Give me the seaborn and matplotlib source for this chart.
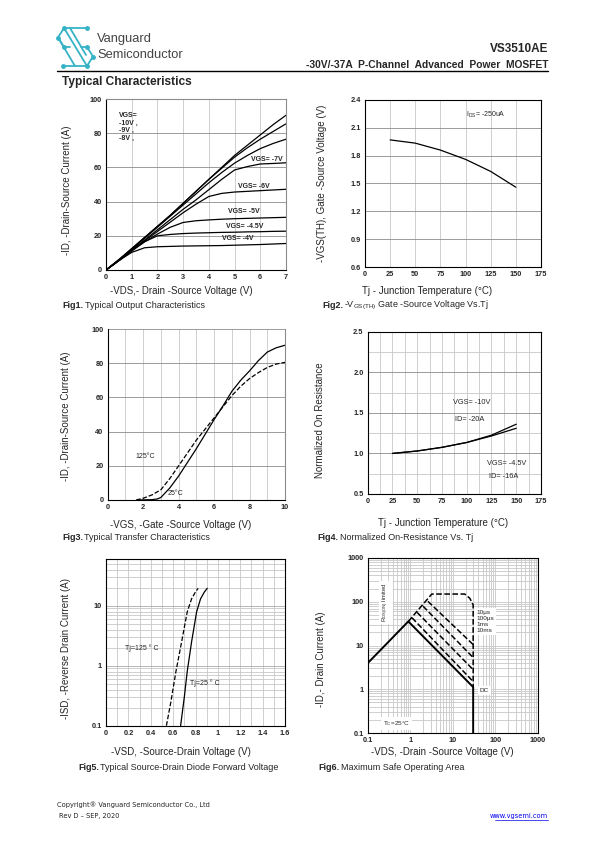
import numpy as np
import pandas as pd
import matplotlib
matplotlib.use('Agg')
import matplotlib.pyplot as plt
import seaborn as sns

sns.set_style('white')
plt.rcParams['font.family'] = ['Liberation Sans', 'DejaVu Sans']
plt.rcParams['mathtext.default'] = 'regular'

W, H = 595, 842
NARROW = ['Liberation Sans Narrow', 'Liberation Sans', 'DejaVu Sans']

# ---- data ----
# Fig1 output characteristics
vds1 = [0, 0.5, 1, 1.5, 2, 2.5, 3, 3.5, 4, 4.5, 5, 5.5, 6, 6.5, 7]
id_vgs10 = [0, 6, 12.5, 19, 25.5, 32, 39, 46, 53, 60, 67, 73, 79, 85, 90.5]
id_vgs9 = [0, 6, 12.5, 19, 25.5, 32, 39, 46, 53, 59.5, 66, 71.5, 76.5, 81, 85.5]
id_vgs8 = [0, 6, 12, 18.5, 25, 31.5, 38, 44.5, 51, 57, 62.5, 67, 71, 74, 76.5]
id_vgs7 = [0, 5.5, 11.5, 17.5, 23.5, 29.5, 35.5, 41, 47, 53, 58.5, 60.5, 62, 62.3, 62.7]
id_vgs6 = [0, 5.5, 11.5, 17, 22.5, 28, 33.5, 38.5, 43, 44.8, 45.6, 46, 46.4, 46.8, 47.2]
id_vgs5 = [0, 5.5, 11.5, 16.5, 21, 25, 27.8, 28.8, 29.3, 29.7, 30, 30.2, 30.4, 30.6, 30.8]
id_vgs45 = [0, 5.5, 11, 16.5, 20, 20.8, 21.3, 21.6, 21.8, 22, 22.1, 22.3, 22.4, 22.6, 22.7]
id_vgs4 = [0, 5.5, 10.3, 13, 13.6, 13.8, 14, 14.1, 14.2, 14.3, 14.5, 14.7, 14.9, 15.2, 15.5]

# Fig2 threshold voltage vs Tj
tj2 = [25, 50, 75, 100, 125, 150]
vth2 = [1.97, 1.935, 1.86, 1.76, 1.63, 1.46]

# Fig3 transfer characteristics
vgs3_25 = [1.7, 2.5, 2.8, 3.0, 3.5, 4.0, 4.5, 5.0, 5.5, 6.0, 6.5, 7.0, 7.5, 8.0, 8.5, 9.0, 9.5, 10.0]
id3_25 = [0, 0.2, 0.6, 1.5, 7, 14, 22, 30, 38.5, 47, 55, 63.5, 70, 75.5, 81.5, 86.5, 89, 90.5]
vgs3_125 = [1.6, 2.0, 2.5, 3.0, 3.5, 4.0, 4.5, 5.0, 5.5, 6.0, 6.5, 7.0, 7.5, 8.0, 8.5, 9.0, 9.5, 10.0]
id3_125 = [0, 1, 3, 6, 12.5, 20, 27.5, 35, 41.5, 48, 54.5, 61, 66.5, 71, 74.5, 77.5, 79.5, 80.5]

# Fig4 normalized on-resistance
tj4 = [25, 50, 75, 100, 125, 150]
rn_vgs10 = [1.0, 1.03, 1.075, 1.135, 1.225, 1.36]
rn_vgs45 = [1.0, 1.03, 1.075, 1.135, 1.215, 1.31]

# Fig5 body diode forward voltage
vsd_125 = [0.54, 0.58, 0.625, 0.676, 0.726, 0.765, 0.80, 0.824]
isd_125 = [0.1, 0.25, 0.8, 2.5, 7.9, 13, 17, 19.5]
vsd_25 = [0.667, 0.70, 0.726, 0.765, 0.81, 0.845, 0.88, 0.905]
isd_25 = [0.1, 0.3, 0.8, 2.5, 7.9, 13, 17, 19.5]

# Fig6 safe operating area
soa_dc_v = [0.1, 0.9, 30, 30]
soa_dc_i = [3.94, 35.5, 1.12, 0.1]
soa_env_v = [0.9, 3.2, 19, 25, 30, 30]
soa_env_i = [35.5, 150, 150, 120, 85, 1.12]
soa_10ms_v, soa_10ms_i = [1.1, 30], [43, 1.5]
soa_1ms_v, soa_1ms_i = [1.45, 30], [57, 2.8]
soa_100us_v, soa_100us_i = [2.0, 30], [79, 5.3]
soa_10us_v, soa_10us_i = [2.6, 30], [102, 10.5]


fig = plt.figure(figsize=(W / 100, H / 100), dpi=100)


def px_ax(l, t, r, b):
    return fig.add_axes([l / W, 1 - b / H, (r - l) / W, (b - t) / H])


def ftxt(x, y, s, **kw):
    return fig.text(x / W, 1 - y / H, s, **kw)


def line(ax, x, y, ls='-', lw=0.9):
    sns.lineplot(x=x, y=y, ax=ax, color='k', lw=lw, linestyle=ls,
                 estimator=None, sort=False)


def style(ax, xgrid='#c8c8c8', ygrid='#8c8c8c'):
    ax.tick_params(length=0, labelsize=5.3, pad=3)
    for lab in ax.get_xticklabels() + ax.get_yticklabels():
        lab.set_family(NARROW)
        lab.set_fontweight('bold')
    ax.set_axisbelow(True)
    ax.xaxis.grid(True, which='both', color=xgrid, lw=0.6)
    ax.yaxis.grid(True, which='major', color=ygrid, lw=0.6)
    for s in ax.spines.values():
        s.set_color('k')
        s.set_linewidth(0.8)


def labels(ax, xl, yl, xc, yc):
    ax.set_xlabel(xl, fontsize=7)
    ax.set_ylabel(yl, fontsize=7)
    ax.xaxis.set_label_coords(*xc)
    ax.yaxis.set_label_coords(*yc)


# ---- Fig1 ----
ax1 = px_ax(106, 99, 286, 270)
for ys in [id_vgs10, id_vgs9, id_vgs8, id_vgs7, id_vgs6, id_vgs5, id_vgs45, id_vgs4]:
    line(ax1, vds1, ys)
ax1.set_xlim(0, 7)
ax1.set_ylim(0, 100)
ax1.set_xticks(range(0, 8))
ax1.set_yticks(range(0, 101, 20))
style(ax1)
ax1.spines['top'].set_color('#8c8c8c')
ax1.spines['right'].set_color('#8c8c8c')
labels(ax1, '-VDS,- Drain -Source Voltage (V)', '-ID, -Drain-Source Current (A)',
       (0.417, -0.095), (-0.19, 0.468))
kw = dict(fontsize=5, fontweight='bold', va='center', family=NARROW)
ax1.text(0.5, 90.6, 'VGS=', **kw)
ax1.text(0.5, 86, '-10V ,', **kw)
ax1.text(0.5, 81.5, '-9V ,', **kw)
ax1.text(0.5, 77.2, '-8V ,', **kw)
kw['ha'] = 'center'
ax1.text(6.25, 64.7, 'VGS= -7V', **kw)
ax1.text(5.76, 49, 'VGS= -6V', **kw)
ax1.text(5.37, 34, 'VGS= -5V', **kw)
ax1.text(5.41, 25.3, 'VGS= -4.5V', **kw)
ax1.text(5.12, 18.3, 'VGS= -4V', **kw)

# ---- Fig2 ----
ax2 = px_ax(365, 100, 541, 267)
line(ax2, tj2, vth2)
ax2.set_xlim(0, 175)
ax2.set_ylim(0.6, 2.4)
ax2.set_xticks(range(0, 176, 25))
ax2.set_yticks(np.arange(0.6, 2.41, 0.3))
ax2.set_yticklabels(['0.6', '0.9', '1.2', '1.5', '1.8', '2.1', '2.4'])
style(ax2)
labels(ax2, 'Tj - Junction Temperature (°C)', '-VGS(TH), Gate -Source Voltage (V)',
       (0.35, -0.115), (-0.218, 0.5))
ax2.text(120, 2.24, 'I$_{DS}$= -250uA', fontsize=5, ha='center', va='center',
         family=NARROW)

# ---- Fig3 ----
ax3 = px_ax(107.7, 329, 285, 500)
line(ax3, vgs3_25, id3_25)
line(ax3, vgs3_125, id3_125, ls='--')
ax3.set_xlim(0, 10)
ax3.set_ylim(0, 100)
ax3.set_xticks(range(0, 11, 2))
ax3.set_xticks(range(1, 10, 2), minor=True)
ax3.set_yticks(range(0, 101, 20))
style(ax3)
ax3.spines['top'].set_visible(False)
ax3.spines['right'].set_color('#8c8c8c')
labels(ax3, '-VGS, -Gate -Source Voltage (V)', '-ID, -Drain-Source Current (A)',
       (0.413, -0.118), (-0.205, 0.49))
ax3.text(2.1, 25.7, '125°C', fontsize=5, ha='center', va='center', family=NARROW)
ax3.text(3.8, 4, '25°C', fontsize=5, ha='center', va='center', family=NARROW)

# ---- Fig4 ----
ax4 = px_ax(367.7, 331.7, 541, 494)
line(ax4, tj4, rn_vgs10)
line(ax4, tj4, rn_vgs45)
ax4.set_xlim(0, 175)
ax4.set_ylim(0.5, 2.5)
ax4.set_xticks(range(0, 176, 25))
ax4.set_xticks(np.arange(12.5, 175, 25), minor=True)
ax4.set_yticks([0.5, 1.0, 1.5, 2.0, 2.5])
ax4.set_yticks([0.75, 1.25, 1.75, 2.25], minor=True)
style(ax4)
ax4.yaxis.grid(True, which='minor', color='#c8c8c8', lw=0.6)
labels(ax4, 'Tj - Junction Temperature (°C)', 'Normalized On Resistance',
       (0.433, -0.15), (-0.248, 0.456))
kw = dict(fontsize=5.3, va='center', ha='left', family=NARROW)
ax4.text(85.8, 1.625, 'VGS= -10V', **kw)
ax4.text(88, 1.42, 'ID= -20A', **kw)
ax4.text(120, 0.88, 'VGS= -4.5V', **kw)
ax4.text(122.5, 0.71, 'ID= -16A', **kw)

# ---- Fig5 ----
ax5 = px_ax(106, 559, 285, 725.7)
line(ax5, vsd_125, isd_125, ls='--')
line(ax5, vsd_25, isd_25)
ax5.set_yscale('log')
ax5.set_xlim(0, 1.6)
ax5.set_ylim(0.1, 60)
ax5.set_xticks(np.arange(0, 1.61, 0.2))
ax5.set_xticklabels(['0', '0.2', '0.4', '0.6', '0.8', '1', '1.2', '1.4', '1.6'])
ax5.set_xticks(np.arange(0.1, 1.6, 0.2), minor=True)
ax5.set_yticks([0.1, 1, 10])
ax5.set_yticklabels(['0.1', '1', '10'])
style(ax5, ygrid='#a8a8a8')
ax5.yaxis.grid(True, which='minor', color='#c8c8c8', lw=0.6)
ax5.tick_params(which='minor', length=0, labelleft=False)
labels(ax5, '-VSD, -Source-Drain Voltage (V)', '-ISD, -Reverse Drain Current (A)',
       (0.419, -0.127), (-0.193, 0.466))
ax5.text(0.17, 1.95, 'Tj=125 ° C', fontsize=5, ha='left', va='center', family=NARROW)
ax5.text(0.75, 0.51, 'Tj=25 ° C', fontsize=5, ha='left', va='center', family=NARROW)

# ---- Fig6 ----
ax6 = px_ax(367.7, 558, 538, 733)
line(ax6, soa_dc_v, soa_dc_i, lw=1.4)
line(ax6, soa_env_v, soa_env_i, ls='--', lw=1.1)
for vv, ii in [(soa_10ms_v, soa_10ms_i), (soa_1ms_v, soa_1ms_i),
               (soa_100us_v, soa_100us_i), (soa_10us_v, soa_10us_i)]:
    line(ax6, vv, ii, ls='--', lw=1.1)
ax6.set_xscale('log')
ax6.set_yscale('log')
ax6.set_xlim(0.1, 1000)
ax6.set_ylim(0.1, 1000)
ax6.set_xticks([0.1, 1, 10, 100, 1000])
ax6.set_xticklabels(['0.1', '1', '10', '100', '1000'])
ax6.set_yticks([0.1, 1, 10, 100, 1000])
ax6.set_yticklabels(['0.1', '1', '10', '100', '1000'])
style(ax6, ygrid='#c8c8c8')
ax6.yaxis.grid(True, which='minor', color='#c8c8c8', lw=0.6)
ax6.tick_params(which='minor', length=0, labelleft=False, labelbottom=False)
labels(ax6, '-VDS, -Drain -Source Voltage (V)', '-ID,- Drain Current (A)',
       (0.438, -0.08), (-0.243, 0.423))
box = dict(facecolor='white', edgecolor='none', pad=1.5)
ax6.text(0.27, 95, 'R$_{DS(ON)}$ limited', fontsize=4.2, rotation=90,
         ha='center', va='center', bbox=box, family=NARROW)
ax6.text(35, 35, '10µs\n100µs\n1ms\n10ms', fontsize=4.6, ha='left', va='center',
         linespacing=1.2, bbox=box, family=NARROW)
ax6.text(43, 0.93, 'DC', fontsize=4.6, ha='left', va='center', bbox=box, family=NARROW)
ax6.text(0.23, 0.167, 'T$_C$=25°C', fontsize=4.6, ha='left', va='center', bbox=box,
         family=NARROW)

# ---- captions ----
renderer = fig.canvas.get_renderer()


def caption(x, y, bold, rest):
    t = ftxt(x, y, bold, fontsize=6.5, fontweight='bold', va='center')
    bb = t.get_window_extent(renderer)
    fig.text(bb.x1 / W + 1.5 / W, 1 - y / H, rest, fontsize=6.5, va='center')


caption(62, 305, 'Fig1.', 'Typical Output Characteristics')
caption(322, 305, 'Fig2.', '-V$_{GS(TH)}$ Gate -Source Voltage Vs.Tj')
caption(62, 538, 'Fig3.', 'Typical Transfer Characteristics')
caption(317, 538, 'Fig4.', 'Normalized On-Resistance Vs. Tj')
caption(78, 768, 'Fig5.', 'Typical Source-Drain Diode Forward Voltage')
caption(318, 768, 'Fig6.', 'Maximum Safe Operating Area')

# ---- page header ----
teal = '#35b3c6'
logo_lines = [
    [(87, 28), (64, 28), (58, 37.5), (64, 47)],
    [(64, 28), (87, 66)],
    [(58, 37.5), (75, 66)],
    [(70, 28), (86, 55)],
    [(64, 47), (70, 47)],
    [(63, 66), (87, 66), (93, 56.5), (87, 47)],
    [(87, 47), (81, 47)],
]
for pts in logo_lines:
    xs = [p[0] / W for p in pts]
    ys = [1 - p[1] / H for p in pts]
    fig.add_artist(plt.Line2D(xs, ys, color=teal, lw=1.3))
for p in [(87, 28), (64, 28), (58, 37.5), (64, 47), (87, 66), (63, 66), (93, 56.5), (87, 47)]:
    fig.add_artist(plt.Line2D([p[0] / W], [1 - p[1] / H], marker='o', ms=2.5, color=teal))

ftxt(97, 39, 'Vanguard', fontsize=9.3, color='#444444', va='center')
ftxt(97, 55, 'Semiconductor', fontsize=9.3, color='#444444', va='center')
ftxt(548, 49, 'VS3510AE', fontsize=8.5, fontweight='bold', ha='right', va='center')
ftxt(548, 64.5, '-30V/-37A  P-Channel  Advanced  Power  MOSFET', fontsize=7.4,
     fontweight='bold', ha='right', va='center')
fig.add_artist(plt.Line2D([57 / W, 548 / W], [1 - 71 / H, 1 - 71 / H], color='k', lw=1))
ftxt(62, 82, 'Typical Characteristics', fontsize=8.6, fontweight='bold', va='center')

# ---- footer ----
ftxt(57, 805, 'Copyright® Vanguard Semiconductor Co., Ltd', fontsize=4.8,
     family='DejaVu Sans', va='center', color='#222222')
ftxt(59, 816, 'Rev D – SEP, 2020', fontsize=4.8, family='DejaVu Sans',
     va='center', color='#222222')
ftxt(548, 816, 'www.vgsemi.com', fontsize=4.8, family='DejaVu Sans', ha='right',
     va='center', color='#0000ee')
fig.add_artist(plt.Line2D([495 / W, 548 / W], [1 - 820 / H, 1 - 820 / H],
                          color='#0000ee', lw=0.5))

fig.savefig('out.png', dpi=100)
